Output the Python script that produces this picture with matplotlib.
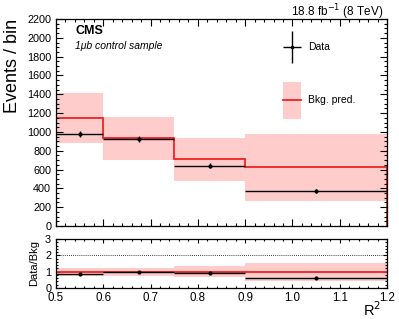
import matplotlib
matplotlib.use("Agg")
import matplotlib.pyplot as plt
import numpy as np
from matplotlib.ticker import MultipleLocator

plt.rcParams['font.family'] = ['Liberation Sans', 'DejaVu Sans']

# binning in R^2
bin_edges = [0.5, 0.6, 0.75, 0.9, 1.2]

# event counts
data_counts = [980, 925, 640, 375]
data_err = [31, 30, 25, 19]
bkg_pred = [1150, 930, 715, 625]
bkg_lo = [880, 700, 480, 265]
bkg_hi = [1410, 1160, 940, 975]

# ratio panel
ratio_data = [0.85, 0.99, 0.89, 0.60]
ratio_err = [0.03, 0.03, 0.04, 0.03]
ratio_lo = [0.76, 0.75, 0.67, 0.41]
ratio_hi = [1.22, 1.25, 1.33, 1.55]

W, H = 399, 319
fig = plt.figure(figsize=(W / 100, H / 100), dpi=100)
ax = fig.add_axes([56 / W, (H - 226) / H, 331 / W, 207 / H])
rax = fig.add_axes([56 / W, (H - 288) / H, 331 / W, 49 / H], sharex=ax)

band_col = '#ffcccc'
red = '#ee2222'
edges = np.array(bin_edges)
centers = (edges[:-1] + edges[1:]) / 2
halfw = (edges[1:] - edges[:-1]) / 2

# main panel
for i in range(len(bkg_pred)):
    ax.fill_between([edges[i], edges[i + 1]], bkg_lo[i], bkg_hi[i], color=band_col, lw=0)
    rax.fill_between([edges[i], edges[i + 1]], ratio_lo[i], ratio_hi[i], color=band_col, lw=0)
ax.stairs(bkg_pred, edges, color=red, lw=1.3)
ax.errorbar(centers, data_counts, xerr=halfw, yerr=data_err, fmt='o', ms=2,
            color='black', ecolor='black', elinewidth=1.0, capsize=0)

ax.set_xlim(0.5, 1.2)
ax.set_ylim(0, 2200)
ax.yaxis.set_major_locator(MultipleLocator(200))
ax.yaxis.set_minor_locator(MultipleLocator(50))
ax.xaxis.set_major_locator(MultipleLocator(0.1))
ax.xaxis.set_minor_locator(MultipleLocator(0.02))
ax.set_ylabel('Events / bin', fontsize=13, loc='top')
ax.tick_params(labelbottom=False)

# ratio panel
rax.axhline(1, color=red, lw=1.3)
rax.axhline(2, color='black', lw=0.6, ls=(0, (1, 1.5)))
rax.errorbar(centers, ratio_data, xerr=halfw, yerr=ratio_err, fmt='o', ms=2,
             color='black', ecolor='black', elinewidth=1.0, capsize=0)
rax.set_ylim(0, 3)
rax.yaxis.set_major_locator(MultipleLocator(1))
rax.yaxis.set_minor_locator(MultipleLocator(0.2))
rax.set_ylabel('Data/Bkg', fontsize=8)

for a in (ax, rax):
    a.tick_params(which='both', direction='in', top=True, right=True, labelsize=7.8, width=0.8)
    a.tick_params(which='major', length=5)
    a.tick_params(which='minor', length=2.5)
    for s in a.spines.values():
        s.set_linewidth(0.9)

rax.tick_params(which='major', length=3)
rax.tick_params(which='minor', length=1.5)
rax.tick_params(axis='x', labelsize=8.3, pad=3)

# labels
fig.text(381 / W, 0 / H, 'R$^2$', fontsize=10.5, ha='right', va='bottom')
ax.text(0.058, 0.94, 'CMS', transform=ax.transAxes, fontsize=9, fontweight='bold', va='center')
ax.text(0.058, 0.87, '1\u03bcb control sample', transform=ax.transAxes, fontsize=7.5,
        style='italic', va='center')
fig.text(383 / W, (H - 12) / H, '18.8 fb$^{-1}$ (8 TeV)', fontsize=8.5, ha='right', va='center')

# legend
lx = 0.5 + (292 - 56) / 331 * 0.7
ax.errorbar([lx], [(226 - 47) / 207 * 2200], xerr=[0.019], yerr=[165], fmt='o', ms=1.5,
            color='black', elinewidth=1.0, capsize=0)
ax.text(0.5 + (308 - 56) / 331 * 0.7, (226 - 47) / 207 * 2200, 'Data', fontsize=7.5, va='center')
ax.fill_between([lx - 0.019, lx + 0.019], (226 - 119) / 207 * 2200, (226 - 82) / 207 * 2200,
                color=band_col, lw=0)
ax.plot([lx - 0.019, lx + 0.019], [(226 - 100) / 207 * 2200] * 2, color=red, lw=1.3)
ax.text(0.5 + (308 - 56) / 331 * 0.7, (226 - 100) / 207 * 2200, 'Bkg. pred.', fontsize=7.5, va='center')

fig.savefig('out.png', dpi=100)
